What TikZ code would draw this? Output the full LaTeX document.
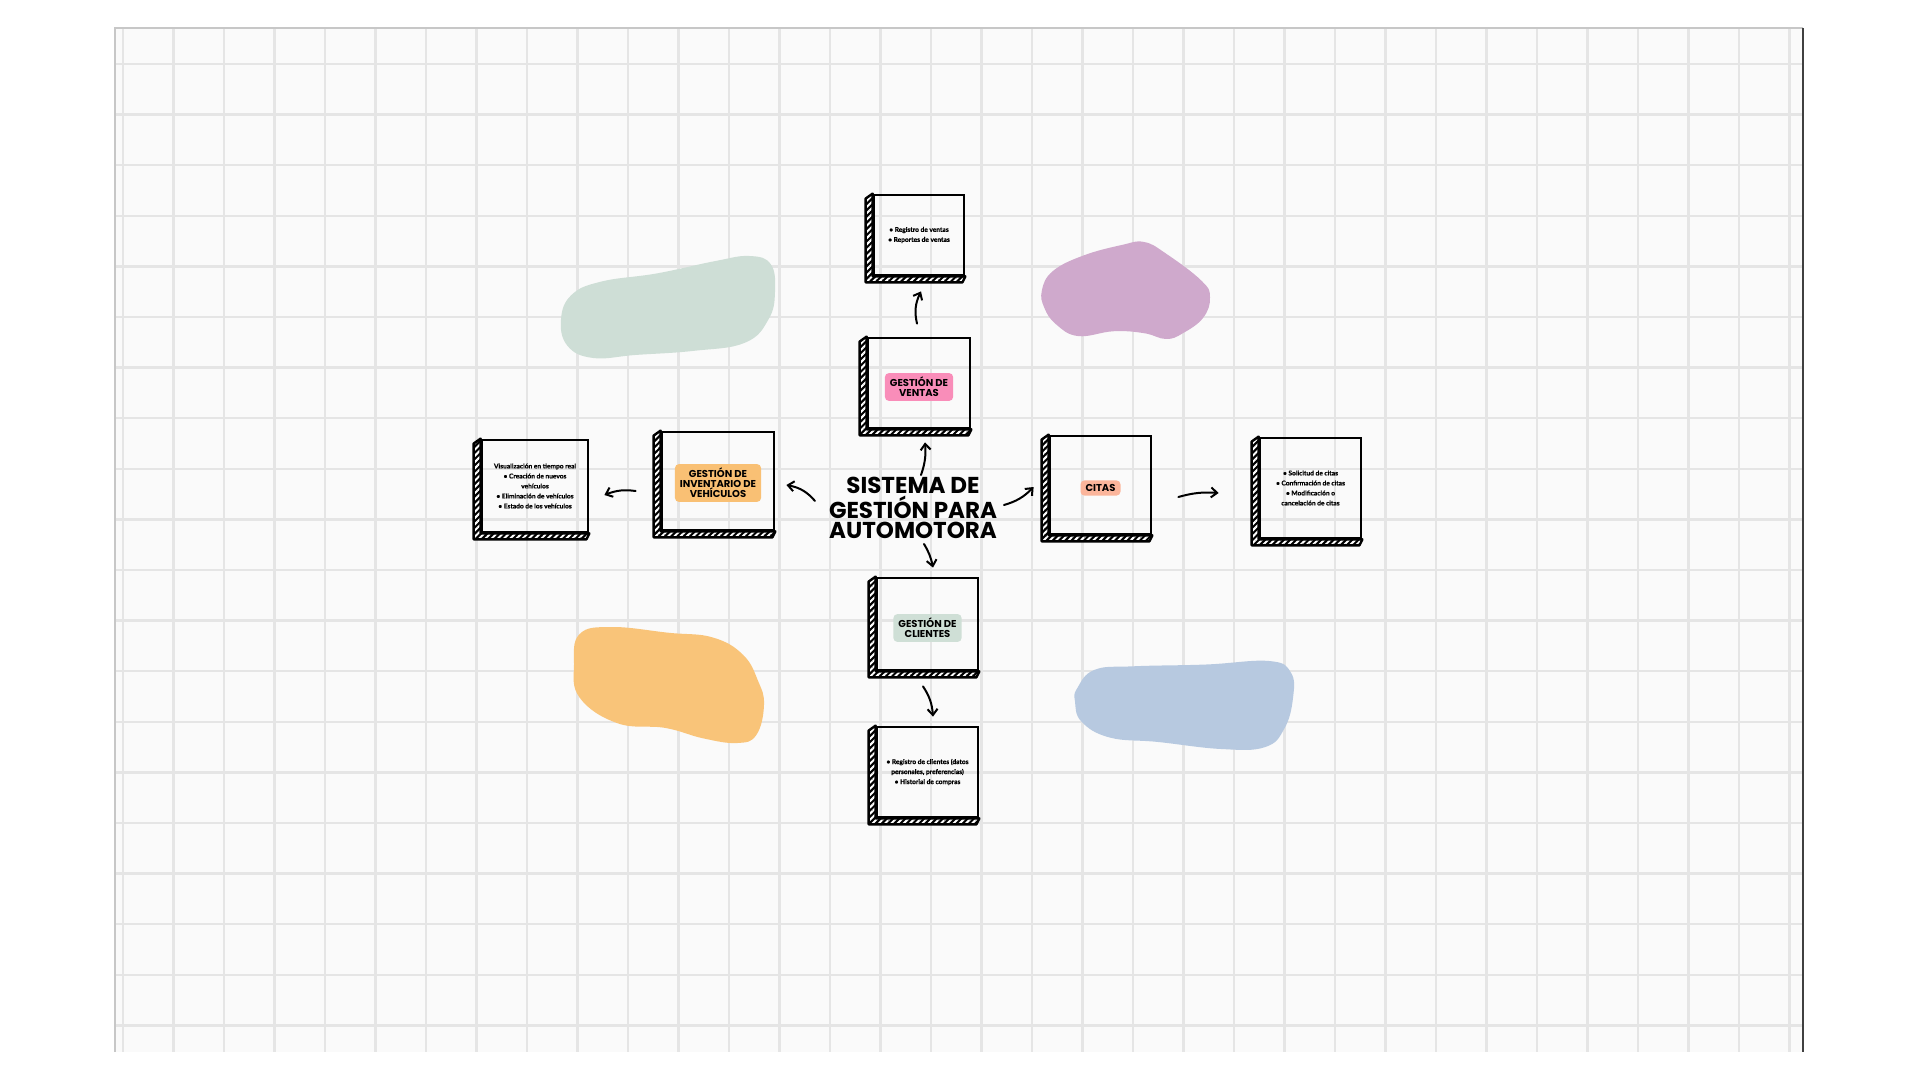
\documentclass[tikz,border=0pt]{standalone}
\usepackage{fontspec}
\usetikzlibrary{arrows.meta,patterns.meta,bending}
\newfontfamily\titlefont{Poppins}
\newfontfamily\detfont{Lato}[BoldFeatures={FakeBold=0.6}]
\definecolor{paper}{HTML}{FAFAFA}
\definecolor{gridc}{HTML}{E5E5E5}
\definecolor{blobgreen}{HTML}{CEDED6}
\definecolor{blobpurple}{HTML}{CFA9CC}
\definecolor{bloborange}{HTML}{F9C479}
\definecolor{blobblue}{HTML}{B7C9E0}
\definecolor{chippink}{HTML}{F98DB9}
\definecolor{chiporange}{HTML}{F9C074}
\definecolor{chipsalmon}{HTML}{FBB59B}
\definecolor{chipgreen}{HTML}{CFDFD6}
\tikzset{
  gridline/.style={draw=gridc, line width=1.2pt},
  skbox/.style={draw=black, line width=1.4pt, inner sep=0pt, align=center,
    font=\detfont\bfseries\fontsize{3.3}{5}\selectfont},
  bandfill/.style={preaction={fill=black}, pattern={Lines[angle=45,distance=2.2pt,line width=1pt]},
    pattern color=white, draw=black, line width=1.2pt, line join=round},
  chip/.style={rounded corners=2pt, inner xsep=2.5pt, inner ysep=2pt, align=center,
    font=\titlefont\bfseries\fontsize{5}{5}\selectfont},
  titlestyle/.style={align=center, inner sep=0pt,
    font=\titlefont\bfseries\fontsize{11.5}{10}\selectfont},
  arr/.style={line width=1pt, line cap=round, -{Straight Barb[length=3pt,width=5pt,line width=1pt]}}
}
\newcommand\mkbox[6]{%
  \node[skbox, minimum width={(#4-#2)*0.5pt}, minimum height={(#5-#3)*0.5pt}] (#1) at ({(#2+#4)/2},{(#3+#5)/2}) {#6};
  \path[bandfill] (#1.north west) -- ++(-7,5) -- ([shift={(-3.5pt,-3pt)}]#1.south west)
    -- ([shift={(-1.5pt,-3pt)}]#1.south east) -- (#1.south east) -- (#1.south west) -- cycle;
}
\begin{document}
\begin{tikzpicture}[x=0.5pt,y=-0.5pt]
\useasboundingbox (0,0) rectangle (1920,1080);
\fill[white] (0,0) rectangle (1920,1080);
% paper
\fill[paper] (115,28) rectangle (1803,1052);
\foreach \i in {0,...,33} \draw[gridline] ({123+50.5*\i},28) -- ({123+50.5*\i},1052);
\foreach \j in {0,...,19} \draw[gridline] (115,{64+50.6*\j}) -- (1803,{64+50.6*\j});
\draw[draw=black!22, line width=0.6pt] (115,1052) -- (115,28) -- (1803,28);
\draw[draw=black!75, line width=1pt] (1803,28) -- (1803,1052);
% blobs
\begin{scope}[shift={(561,256)}, xscale=214, yscale=102]
\fill[blobgreen] plot[smooth cycle, tension=0.7] coordinates {(0,0.62) (0.05,0.38) (0.19,0.25) (0.45,0.17) (0.72,0.05) (0.88,0) (0.98,0.08) (1,0.35) (0.97,0.62) (0.86,0.85) (0.62,0.93) (0.35,0.97) (0.15,1) (0.03,0.88)};
\end{scope}
\begin{scope}[shift={(1041,242)}, xscale=169, yscale=97]
\fill[blobpurple] plot[smooth cycle, tension=0.7] coordinates {(0.005,0.5) (0.07,0.3) (0.25,0.14) (0.48,0.03) (0.61,0) (0.74,0.12) (0.95,0.4) (1,0.57) (0.96,0.78) (0.84,0.94) (0.74,1) (0.61,0.94) (0.43,0.92) (0.22,0.97) (0.09,0.85) (0.02,0.68)};
\end{scope}
\begin{scope}[shift={(574,627)}, xscale=190, yscale=116]
\fill[bloborange] plot[smooth cycle, tension=0.7] coordinates {(0.03,0.06) (0.2,0) (0.5,0.05) (0.73,0.09) (0.89,0.24) (0.97,0.47) (1,0.67) (0.96,0.93) (0.86,1) (0.68,0.96) (0.48,0.87) (0.23,0.83) (0.03,0.61) (0,0.32)};
\end{scope}
\begin{scope}[shift={(1075,661)}, xscale=218, yscale=88]
\fill[blobblue] plot[smooth cycle, tension=0.7] coordinates {(0.01,0.31) (0.09,0.1) (0.27,0.06) (0.6,0.04) (0.89,0) (0.99,0.13) (1,0.42) (0.96,0.77) (0.87,0.98) (0.67,1) (0.38,0.92) (0.16,0.87) (0.03,0.69) (0,0.46)};
\end{scope}
% boxes
\mkbox{ventasDet}{874}{195}{964}{275}{• Registro de ventas\\• Reportes de ventas}
\mkbox{ventas}{868}{338}{970}{428}{}
\mkbox{invDet}{482}{440}{588}{532}{Visualización en tiempo real\\• Creación de nuevos\\vehículos\\• Eliminación de vehículos\\• Estado de los vehículos}
\mkbox{inv}{662}{432}{774}{530}{}
\mkbox{citas}{1050}{436}{1151}{534}{}
\mkbox{citasDet}{1260}{438}{1361}{538}{• Solicitud de citas\\• Confirmación de citas\\• Modificación o\\cancelación de citas}
\mkbox{clientes}{877}{578}{978}{670}{}
\mkbox{clientesDet}{877}{727}{978}{817}{• Registro de clientes (datos\\personales, preferencias)\\• Historial de compras}
% chips
\node[chip, fill=chippink] (ventasChip) at ([yshift=-2pt]ventas.center) {GESTIÓN DE\\VENTAS};
\node[chip, fill=chiporange] (invChip) at ([yshift=-1pt]inv.center) {GESTIÓN DE\\INVENTARIO DE\\VEHÍCULOS};
\node[chip, fill=chipsalmon] (citasChip) at ([yshift=-1.5pt]citas.center) {CITAS};
\node[chip, fill=chipgreen] (clientesChip) at ([yshift=-2pt]clientes.center) {GESTIÓN DE\\CLIENTES};
% title
\node[titlestyle] (title) at (913,508) {SISTEMA DE\\GESTIÓN PARA\\AUTOMOTORA};
% arrows
\draw[arr] ([shift={(4pt,16.5pt)}]title.center) to[bend right=12] ([shift={(3pt,-6.5pt)}]ventas.south);
\draw[arr] ([shift={(-1pt,6.5pt)}]ventas.north) to[bend left=20] ([shift={(1pt,-7.5pt)}]ventasDet.south);
\draw[arr] ([shift={(-49pt,3.5pt)}]title.center) to[bend right=20] ([shift={(5.5pt,-2pt)}]inv.east);
\draw[arr] ([shift={(-12.5pt,-5pt)}]inv.west) to[bend right=15] ([shift={(7.5pt,-4.5pt)}]invDet.east);
\draw[arr] ([shift={(45.5pt,1.5pt)}]title.center) to[bend right=15] ([shift={(-7.5pt,-1pt)}]citas.west);
\draw[arr] ([shift={(13pt,-6pt)}]citas.east) to[bend left=10] ([shift={(-20pt,-2.5pt)}]citasDet.west);
\draw[arr] ([shift={(5.5pt,-18pt)}]title.center) to[bend left=10] ([shift={(2.75pt,4.5pt)}]clientes.north);
\draw[arr] ([shift={(-2.25pt,-7.5pt)}]clientes.south) to[bend left=15] ([shift={(2.75pt,4.5pt)}]clientesDet.north);
\end{tikzpicture}
\end{document}
